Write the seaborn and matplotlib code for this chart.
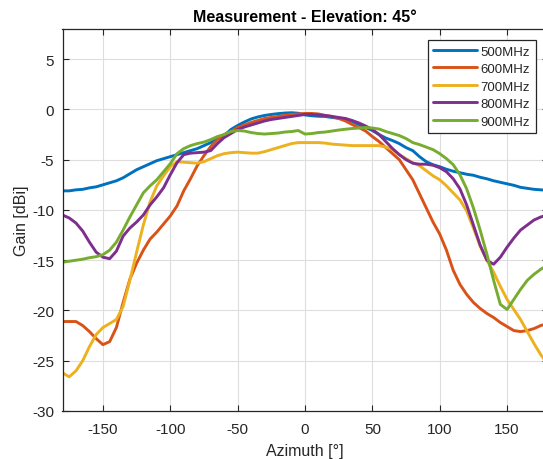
import numpy as np
import pandas as pd
import matplotlib
matplotlib.use("Agg")
import matplotlib.pyplot as plt
import seaborn as sns

azimuth = list(range(-180, 181, 5))

gain_500 = [-8.1, -8.1, -8.0, -7.95, -7.8, -7.7, -7.5, -7.3, -7.1, -6.8, -6.4, -6.0, -5.7,
            -5.4, -5.1, -4.9, -4.7, -4.5, -4.3, -4.1, -3.9, -3.6, -3.3, -2.95, -2.6, -2.0,
            -1.6, -1.25, -0.95, -0.75, -0.6, -0.5, -0.42, -0.36, -0.33, -0.38, -0.55, -0.63,
            -0.68, -0.7, -0.8, -0.88, -0.98, -1.2, -1.5, -1.8, -2.1, -2.5, -2.85, -3.1, -3.4,
            -3.8, -4.1, -4.7, -5.2, -5.5, -5.7, -5.95, -6.15, -6.3, -6.45, -6.55, -6.75, -6.9,
            -7.1, -7.25, -7.4, -7.55, -7.75, -7.85, -7.95, -8.0, -8.05]

gain_600 = [-21.1, -21.1, -21.1, -21.5, -22.1, -22.8, -23.4, -23.1, -21.7, -19.2, -16.9, -15.3,
            -14.0, -12.9, -12.2, -11.4, -10.6, -9.6, -8.1, -6.9, -5.6, -4.6, -3.7, -3.0, -2.5,
            -2.2, -1.8, -1.55, -1.3, -1.1, -0.9, -0.8, -0.7, -0.6, -0.5, -0.45, -0.4, -0.4,
            -0.45, -0.6, -0.7, -0.9, -1.15, -1.5, -1.8, -2.15, -2.7, -3.2, -3.8, -4.4, -5.0,
            -6.0, -7.0, -8.4, -9.8, -11.2, -12.4, -14.0, -16.0, -17.4, -18.4, -19.2, -19.8,
            -20.3, -20.7, -21.2, -21.6, -22.0, -22.1, -22.0, -21.8, -21.5, -21.3]

gain_700 = [-26.2, -26.6, -26.0, -25.0, -23.6, -22.4, -21.7, -21.3, -20.9, -19.6, -17.0, -14.2,
            -11.5, -9.2, -7.6, -6.6, -5.7, -5.2, -5.25, -5.3, -5.35, -5.2, -4.9, -4.6, -4.4,
            -4.3, -4.25, -4.3, -4.35, -4.35, -4.2, -4.0, -3.8, -3.6, -3.4, -3.3, -3.3, -3.3,
            -3.3, -3.35, -3.45, -3.5, -3.55, -3.6, -3.6, -3.6, -3.6, -3.6, -3.75, -4.0, -4.5,
            -4.9, -5.3, -5.6, -6.1, -6.6, -7.0, -7.6, -8.3, -9.0, -10.1, -11.8, -13.6, -15.0,
            -16.2, -17.6, -18.9, -19.9, -20.9, -22.1, -23.3, -24.4, -25.3]

gain_800 = [-10.5, -10.8, -11.3, -12.1, -13.2, -14.2, -14.7, -14.85, -14.1, -12.6, -11.8, -11.2,
            -10.5, -9.5, -8.7, -7.8, -6.5, -5.3, -4.5, -4.35, -4.3, -4.25, -4.1, -3.4, -2.8,
            -2.4, -2.0, -1.75, -1.55, -1.35, -1.15, -1.0, -0.9, -0.8, -0.7, -0.6, -0.5, -0.5,
            -0.55, -0.6, -0.7, -0.8, -0.9, -1.1, -1.35, -1.65, -2.0, -2.5, -3.2, -3.9, -4.5,
            -5.0, -5.35, -5.45, -5.45, -5.55, -5.8, -6.2, -6.9, -7.9, -9.5, -11.5, -13.5,
            -15.0, -15.4, -14.7, -13.7, -12.8, -12.0, -11.5, -11.0, -10.7, -10.5]

gain_900 = [-15.2, -15.1, -15.0, -14.9, -14.75, -14.65, -14.45, -14.0, -13.2, -12.0, -10.7, -9.5,
            -8.3, -7.6, -7.0, -6.2, -5.4, -4.4, -3.9, -3.6, -3.4, -3.25, -3.0, -2.7, -2.5,
            -2.2, -2.1, -2.15, -2.3, -2.4, -2.45, -2.4, -2.35, -2.25, -2.2, -2.1, -2.45, -2.4,
            -2.3, -2.25, -2.15, -2.05, -1.97, -1.9, -1.85, -1.8, -1.85, -1.95, -2.2, -2.4, -2.6,
            -2.9, -3.3, -3.5, -3.75, -4.0, -4.4, -4.9, -5.5, -6.5, -7.9, -9.8, -12.0, -14.4,
            -17.0, -19.4, -19.9, -18.9, -17.9, -17.0, -16.4, -15.9, -15.5]

series_names = ["500MHz", "600MHz", "700MHz", "800MHz", "900MHz"]
series_values = [gain_500, gain_600, gain_700, gain_800, gain_900]
colors = ["#0072BD", "#D95319", "#EDB120", "#7E2F8E", "#77AC30"]

x_ticks = [-150, -100, -50, 0, 50, 100, 150]
y_ticks = [-30, -25, -20, -15, -10, -5, 0, 5]

df = pd.concat([
    pd.DataFrame({"Azimuth": azimuth, "Gain": vals, "Freq": name})
    for name, vals in zip(series_names, series_values)
], ignore_index=True)

sns.set_style("whitegrid")
plt.rcParams["font.family"] = ["Liberation Sans", "DejaVu Sans"]

W, H = 543, 460
fig = plt.figure(figsize=(W / 100, H / 100), dpi=100)
left, right, top, bottom = 62.5, 547.5, 30, 412
ax = fig.add_axes([left / W, 1 - bottom / H, (right - left) / W, (bottom - top) / H])

sns.lineplot(data=df, x="Azimuth", y="Gain", hue="Freq", hue_order=series_names,
             palette=colors, linewidth=2.1, ax=ax, legend=True, sort=False)

ax.set_xlim(-180, 180)
ax.set_ylim(-30, 8)
ax.set_xticks(x_ticks)
ax.set_yticks(y_ticks)
ax.set_xticklabels([str(v) for v in x_ticks])
ax.set_yticklabels([str(v) for v in y_ticks])

dark = "#262626"
ax.grid(True, color="#dedede", linewidth=0.8)
for s in ax.spines.values():
    s.set_visible(True)
    s.set_color(dark)
    s.set_linewidth(0.9)
ax.tick_params(axis="both", direction="in", length=4, width=0.8, colors=dark,
               labelsize=11, top=True, right=True, bottom=True, left=True,
               labelcolor=dark)
ax.tick_params(axis="x", pad=8)
ax.tick_params(axis="y", pad=6)

ax.set_title("Measurement - Elevation: 45°", fontsize=11.5, fontweight="bold", color="black", pad=6)
ax.set_xlabel("Azimuth [°]", fontsize=11.5, color=dark, labelpad=5)
ax.set_ylabel("Gain [dBi]", fontsize=11.5, color=dark, labelpad=2)

leg = ax.legend(loc="upper right", bbox_to_anchor=(535.5 / W, 1 - 41 / H),
                bbox_transform=fig.transFigure, fontsize=9.5, frameon=True,
                fancybox=False, edgecolor=dark, handlelength=3.3, handletextpad=0.3,
                labelspacing=0.4, borderpad=0.4, borderaxespad=0.0)
leg.get_frame().set_linewidth(0.9)
leg.get_frame().set_alpha(1.0)
for line in leg.get_lines():
    line.set_linewidth(2.1)

fig.savefig("out.png", dpi=100)
